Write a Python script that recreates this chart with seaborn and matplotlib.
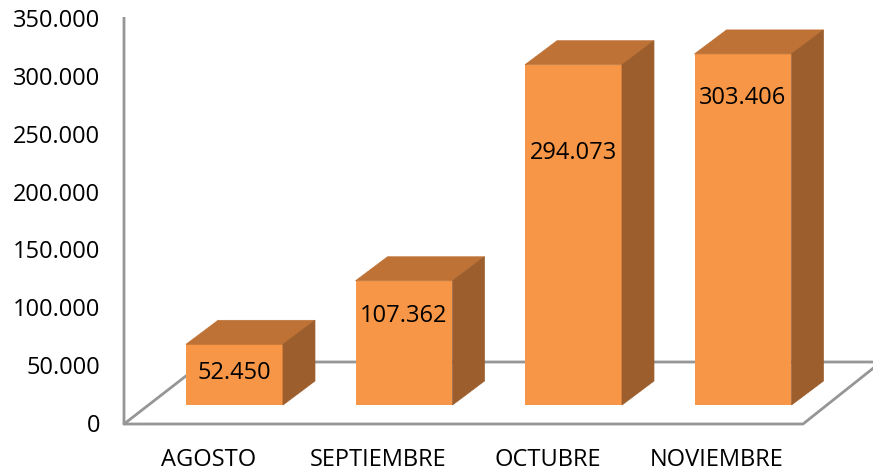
import seaborn as sns
import matplotlib.pyplot as plt
from matplotlib.patches import Polygon
from matplotlib.transforms import ScaledTranslation

meses = ["AGOSTO", "SEPTIEMBRE", "OCTUBRE", "NOVIEMBRE"]
valores = [52450, 107362, 294073, 303406]
etiquetas = ["52.450", "107.362", "294.073", "303.406"]
yticks = [0, 50000, 100000, 150000, 200000, 250000, 300000, 350000]
ytick_labels = ["0", "50.000", "100.000", "150.000", "200.000", "250.000", "300.000", "350.000"]

# where the value label sits inside each bar (fraction of bar height)
label_frac = [0.53, 0.72, 0.74, 0.875]

sns.set_style("white")
plt.rcParams['font.family'] = ['Open Sans', 'DejaVu Sans']
plt.rcParams['text.color'] = 'black'
plt.rcParams['xtick.color'] = 'black'
plt.rcParams['ytick.color'] = 'black'

W, H = 873, 471
fig = plt.figure(figsize=(W / 100, H / 100), dpi=100)

front = '#F79646'
top_c = '#BE7236'
side_c = '#9C5E2C'
gray = '#969696'

# floor and wall of the 3D frame, in pixel coordinates
bg = fig.add_axes([0, 0, 1, 1])
bg.set_xlim(0, W)
bg.set_ylim(H, 0)
bg.axis('off')
bg.plot([124, 124, 803, 881], [17, 424, 424, 362], color=gray, lw=2, solid_capstyle='butt')
bg.plot([124, 204, 881], [424, 362, 362], color=gray, lw=2)

# y tick labels
ax_y = fig.add_axes([124 / W, (H - 423) / H, 0.001, (423 - 18) / H])
ax_y.set_ylim(0, 350000)
ax_y.set_yticks(yticks)
ax_y.set_yticklabels(ytick_labels, fontsize=17)
ax_y.set_xticks([])
ax_y.tick_params(axis='y', length=0, pad=17)
for s in ax_y.spines.values():
    s.set_visible(False)
ax_y.patch.set_alpha(0)

# bars
ax = fig.add_axes([149.75 / W, (H - 405) / H, (827.75 - 149.75) / W, 405 / H])
sns.barplot(x=meses, y=valores, color=front, saturation=1, width=0.572, ax=ax,
            zorder=3, linewidth=0, edgecolor=front)
ax.set_xlim(-0.5, 3.5)
ax.set_ylim(0, 350000)
ax.patch.set_alpha(0)
for s in ax.spines.values():
    s.set_visible(False)
ax.set_yticks([])
ax.set_ylabel("")

dx = 32 / 169.5
dy = 24 * 350000 / 405
for p in ax.patches:
    x0 = p.get_x()
    x1 = x0 + p.get_width()
    h = p.get_height()
    top = Polygon([(x0, h), (x0 + dx, h + dy), (x1 + dx, h + dy), (x1, h)],
                  closed=True, facecolor=top_c, edgecolor=top_c, lw=0.5, zorder=3, clip_on=False)
    side = Polygon([(x1, 0), (x1, h), (x1 + dx, h + dy), (x1 + dx, dy)],
                   closed=True, facecolor=side_c, edgecolor=side_c, lw=0.5, zorder=3, clip_on=False)
    ax.add_patch(top)
    ax.add_patch(side)

for i, (v, lab) in enumerate(zip(valores, etiquetas)):
    ax.text(i, v * label_frac[i], lab, ha='center', va='center', fontsize=17,
            color='black', zorder=5)

ax.set_xticks(range(len(meses)))
ax.set_xticklabels(meses, fontsize=17)
ax.tick_params(axis='x', length=0, pad=31)
shift = ScaledTranslation(-26 / 100, 0, fig.dpi_scale_trans)
for t in ax.get_xticklabels():
    t.set_transform(t.get_transform() + shift)

fig.savefig('out.png', dpi=100)
